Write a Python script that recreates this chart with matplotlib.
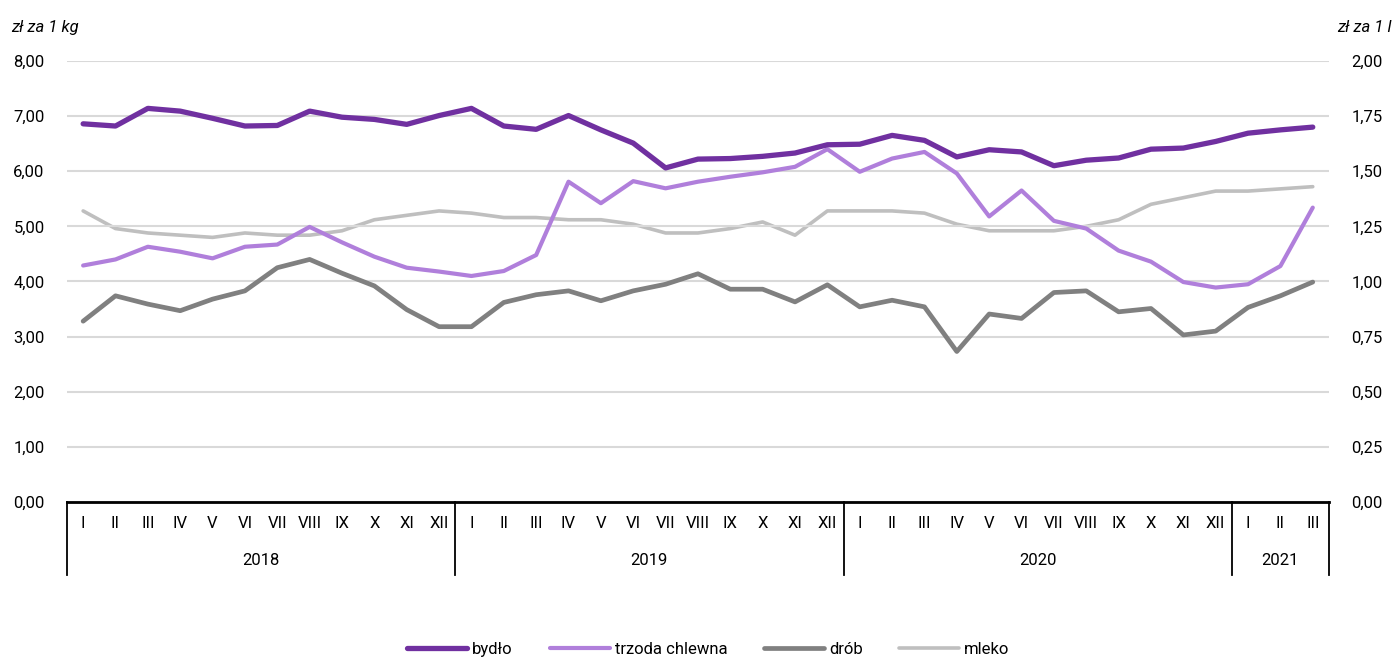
import matplotlib
matplotlib.use('Agg')
import matplotlib.pyplot as plt
import matplotlib.transforms as mtransforms
import numpy as np

plt.rcParams['font.family'] = ['Roboto', 'DejaVu Sans']

months = ['I', 'II', 'III', 'IV', 'V', 'VI', 'VII', 'VIII', 'IX', 'X', 'XI', 'XII']
years = ['2018', '2019', '2020', '2021']
year_lengths = [12, 12, 12, 3]
month_labels = months * 3 + months[:3]

bydlo = [6.86, 6.82, 7.14, 7.09, 6.96, 6.82, 6.83, 7.09, 6.98, 6.94, 6.85, 7.01,
         7.14, 6.82, 6.76, 7.01, 6.75, 6.51, 6.06, 6.22, 6.23, 6.27, 6.33, 6.48,
         6.49, 6.65, 6.56, 6.26, 6.39, 6.35, 6.10, 6.20, 6.24, 6.40, 6.42, 6.54,
         6.69, 6.75, 6.80]
trzoda = [4.29, 4.40, 4.63, 4.54, 4.42, 4.63, 4.67, 4.99, 4.71, 4.45, 4.25, 4.18,
          4.10, 4.19, 4.48, 5.81, 5.42, 5.82, 5.69, 5.81, 5.90, 5.98, 6.08, 6.40,
          5.99, 6.23, 6.35, 5.96, 5.18, 5.65, 5.10, 4.96, 4.56, 4.36, 3.99, 3.89,
          3.95, 4.28, 5.34]
drob = [3.28, 3.74, 3.59, 3.47, 3.68, 3.83, 4.25, 4.40, 4.15, 3.92, 3.49, 3.18,
        3.18, 3.62, 3.76, 3.83, 3.65, 3.83, 3.95, 4.14, 3.86, 3.86, 3.63, 3.94,
        3.54, 3.66, 3.54, 2.73, 3.41, 3.33, 3.80, 3.83, 3.45, 3.51, 3.03, 3.10,
        3.53, 3.74, 3.99]
mleko = [1.32, 1.24, 1.22, 1.21, 1.20, 1.22, 1.21, 1.21, 1.23, 1.28, 1.30, 1.32,
         1.31, 1.29, 1.29, 1.28, 1.28, 1.26, 1.22, 1.22, 1.24, 1.27, 1.21, 1.32,
         1.32, 1.32, 1.31, 1.26, 1.23, 1.23, 1.23, 1.25, 1.28, 1.35, 1.38, 1.41,
         1.41, 1.42, 1.43]

C_BYDLO = '#7030A0'
C_TRZODA = '#B07FDB'
C_DROB = '#808080'
C_MLEKO = '#BFBFBF'

fig = plt.figure(figsize=(13.92, 6.57), dpi=100)
ax = fig.add_axes([0.0481, 0.2359, 0.9066, 0.6713])
ax2 = ax.twinx()

x = np.arange(len(bydlo))
l4, = ax2.plot(x, mleko, color=C_MLEKO, lw=2.6, solid_capstyle='round')
l3, = ax.plot(x, drob, color=C_DROB, lw=3.4, solid_capstyle='round')
l2, = ax.plot(x, trzoda, color=C_TRZODA, lw=3.0, solid_capstyle='round')
l1, = ax.plot(x, bydlo, color=C_BYDLO, lw=3.8, solid_capstyle='round')
ax.set_zorder(ax2.get_zorder() + 1)
ax.patch.set_visible(False)

ax.set_xlim(-0.5, len(bydlo) - 0.5)
ax.set_ylim(0, 8)
ax2.set_ylim(0, 2)
ax.set_yticks(np.arange(0, 9, 1))
ax.set_yticklabels([f'{v:.2f}'.replace('.', ',') for v in np.arange(0, 9, 1)], fontsize=12)
ax2.set_yticks(np.arange(0, 2.01, 0.25))
ax2.set_yticklabels([f'{v:.2f}'.replace('.', ',') for v in np.arange(0, 2.01, 0.25)], fontsize=12)
ax.yaxis.grid(True, color='#D9D9D9', lw=1.5)
ax.set_axisbelow(True)
ax.tick_params(axis='y', length=0, pad=16)
ax2.tick_params(axis='y', length=0, pad=16)

ax.set_xticks(x)
ax.set_xticklabels(month_labels, fontsize=12)
ax.tick_params(axis='x', length=0, pad=10)

for a in (ax, ax2):
    for s in ('top', 'right', 'left', 'bottom'):
        a.spines[s].set_visible(False)
ax.spines['bottom'].set_visible(True)
ax.spines['bottom'].set_linewidth(2)
ax.spines['bottom'].set_color('black')

# year separators and labels
trans = mtransforms.blended_transform_factory(ax.transData, ax.transAxes)
bounds = np.concatenate([[0], np.cumsum(year_lengths)]) - 0.5
for b in bounds:
    ax.plot([b, b], [0, -0.166], color='black', lw=1.3, transform=trans, clip_on=False)
for i, yr in enumerate(years):
    ax.text((bounds[i] + bounds[i + 1]) / 2, -0.133, yr, transform=trans,
            ha='center', va='center', fontsize=12)

fig.text(0.008, 0.958, 'zł za 1 kg', fontsize=12, style='italic', ha='left', va='center')
fig.text(0.9995, 0.958, 'zł za 1 l', fontsize=12, style='italic', ha='right', va='center')

fig.legend([l1, l2, l3, l4], ['bydło', 'trzoda chlewna', 'drób', 'mleko'],
           loc='center', bbox_to_anchor=(0.509, 0.012), ncol=4, frameon=False,
           fontsize=12, handlelength=3.6, handletextpad=0.3, columnspacing=2.2)

plt.savefig('out.png', dpi=100)
plt.close()
